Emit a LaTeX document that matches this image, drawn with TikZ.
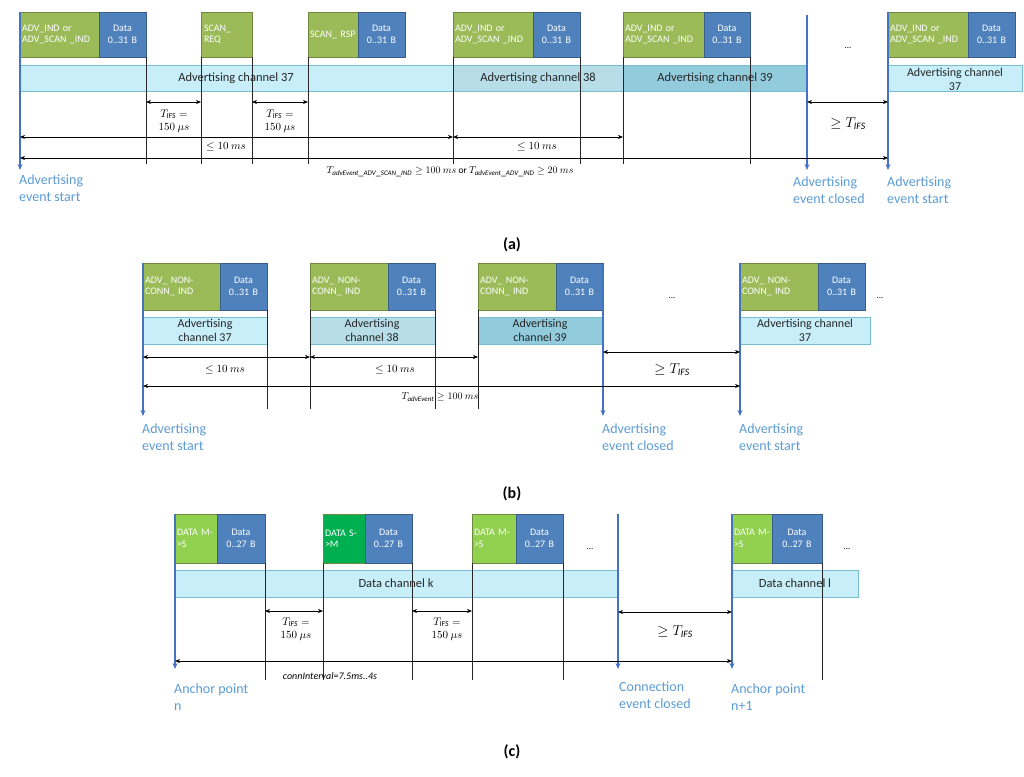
\documentclass[tikz,border=0pt]{standalone}
\usepackage{fontspec}
\setmainfont{Carlito}
\usetikzlibrary{arrows.meta}
\definecolor{gr}{RGB}{155,187,89}
\definecolor{grb}{RGB}{113,137,63}
\definecolor{lg}{RGB}{146,208,80}
\definecolor{dg}{RGB}{0,176,80}
\definecolor{bl}{RGB}{79,129,189}
\definecolor{blb}{RGB}{56,93,138}
\definecolor{ev}{RGB}{68,114,196}
\definecolor{evt}{RGB}{91,155,213}
\definecolor{chA}{RGB}{200,238,250}
\definecolor{chB}{RGB}{182,221,232}
\definecolor{chC}{RGB}{146,203,220}
\definecolor{chE}{RGB}{120,190,210}
\tikzset{
 pk/.style={draw, line width=0.8pt, inner sep=2pt, text=white, font=\fontsize{10}{11.5}\selectfont, anchor=center},
 ch/.style={draw=chE, line width=0.8pt, inner sep=0pt, font=\fontsize{12.5}{13}\selectfont, text=black!85},
 dim/.style={{Stealth[length=5pt,width=4pt]}-{Stealth[length=5pt,width=4pt]}, line width=0.6pt},
 tick/.style={line width=0.6pt, black!85},
 evl/.style={ev, line width=1.6pt, -{Stealth[length=6pt,width=5pt]}},
 evlab/.style={evt, font=\fontsize{14}{17}\selectfont, align=left, anchor=north west, inner sep=0pt},
 ml/.style={font=\fontsize{11}{13}\selectfont, align=center, inner sep=0pt},
 figcap/.style={font=\fontsize{16}{18}\selectfont\rmfamily\bfseries}
}
% name, xa, xb, xc, ytop, ybot, green text, data text, green colour
\newcommand\pkt[9]{%
 \pgfmathsetmacro\wA{#3-#2}\pgfmathsetmacro\wB{#4-#3}\pgfmathsetmacro\hh{#6-#5}%
 \node[pk, fill=#9, draw=grb, minimum width=\wA pt, minimum height=\hh pt, text width=\wA pt-4pt, align=left] (#1g) at ({(#2+#3)/2},{(#5+#6)/2}) {#7};
 \node[pk, fill=bl, draw=blb, minimum width=\wB pt, minimum height=\hh pt, text width=\wB pt-4pt, align=center] (#1d) at ({(#3+#4)/2},{(#5+#6)/2}) {#8};
}
\newcommand\chan[6]{% name, xa, xb, ya, yb, fill
 \pgfmathsetmacro\wA{#3-#2}\pgfmathsetmacro\hh{#5-#4}%
 \node[ch, fill=#6, minimum width=\wA pt, minimum height=\hh pt] (#1) at ({(#2+#3)/2},{(#4+#5)/2}) {};
}
\begin{document}
\begin{tikzpicture}[x=1pt,y=-1pt]
\useasboundingbox (0,0) rectangle (1024,776);
%%%%%%%%%%%%%%%% (a)
\chan{a37}{20}{453}{65}{91}{chA}
\chan{a38}{453}{623}{65}{91}{chB}
\chan{a39}{623}{807}{65}{91}{chC}
\chan{a37b}{888}{1022}{65}{91}{chA}
\node[ch,draw=none] at (236,78) {Advertising channel 37};
\node[ch,draw=none] at (538,78) {Advertising channel 38};
\node[ch,draw=none] at (715,78) {Advertising channel 39};
\node[ch,draw=none,align=center,font=\fontsize{12}{14}\selectfont] at (955,79) {Advertising channel\\37};
\pkt{a1}{20}{99}{146}{12}{57}{ADV\_IND or ADV\_SCAN \_IND}{Data 0..31 B}{gr}
\node[pk, fill=gr, draw=grb, minimum width=51pt, minimum height=45pt, text width=45pt, align=left] (a2g) at (226.5,34.5) {SCAN\_ REQ};
\pkt{a3}{308}{358}{405}{12}{57}{SCAN\_ RSP}{Data 0..31 B}{gr}
\pkt{a4}{453}{533}{580}{12}{57}{ADV\_IND or ADV\_SCAN \_IND}{Data 0..31 B}{gr}
\pkt{a5}{623}{704}{750}{12}{57}{ADV\_IND or ADV\_SCAN \_IND}{Data 0..31 B}{gr}
\pkt{a6}{888}{968}{1015}{12}{57}{ADV\_IND or ADV\_SCAN \_IND}{Data 0..31 B}{gr}
\node[font=\small] (adots) at (848,48) {...};
\foreach \x in {146,201,252,308,453,580,623,750}{\draw[tick] (\x,57) -- (\x,164);}
\coordinate (aS) at (20,12); \coordinate (aSb) at (20,170);
\coordinate (aC) at (807,15); \coordinate (aCb) at (807,170);
\coordinate (aN) at (888,12); \coordinate (aNb) at (888,170);
\draw[evl] (aS) -- (aSb); \draw[evl] (aC) -- (aCb); \draw[evl] (aN) -- (aNb);
\draw[dim] (146,102) -- (201,102); \draw[dim] (252,102) -- (308,102);
\node[ml] at (174,121) {$T_{\mathit{IFS}}=$\\$150\ \mu s$};
\node[ml] at (280,121) {$T_{\mathit{IFS}}=$\\$150\ \mu s$};
\draw[dim] (20,137) -- (453,137); \draw[dim] (453,137) -- (623,137);
\node[ml] at (226,147) {$\leq 10\ ms$};
\node[ml] at (537,147) {$\leq 10\ ms$};
\draw[dim] (20,158) -- (888,158);
\node[ml,font=\fontsize{10}{12}\selectfont] at (450,172) {$T_{\mathit{advEvent\_ADV\_SCAN\_IND}}\geq 100\ ms$ \textsf{or} $T_{\mathit{advEvent\_ADV\_IND}}\geq 20\ ms$};
\draw[dim] (807,102) -- (888,102);
\node[ml,font=\fontsize{14}{16}\selectfont] at (848,124) {$\geq T_{\mathit{IFS}}$};
\node[evlab] at (19,175) {Advertising\\event start};
\node[evlab] at (793,177) {Advertising\\event closed};
\node[evlab] at (887,177) {Advertising\\event start};
\node[figcap] at (512,245) {(\textbf{a})};
%%%%%%%%%%%%%%%% (b)
\chan{b37}{143}{267}{317}{344}{chA}
\chan{b38}{310}{435}{317}{344}{chB}
\chan{b39}{478}{603}{317}{344}{chC}
\chan{b37b}{740}{870}{317}{344}{chA}
\node[ch,draw=none,align=center,font=\fontsize{12}{14}\selectfont] at (205,330) {Advertising\\channel 37};
\node[ch,draw=none,align=center,font=\fontsize{12}{14}\selectfont] at (372,330) {Advertising\\channel 38};
\node[ch,draw=none,align=center,font=\fontsize{12}{14}\selectfont] at (540,330) {Advertising\\channel 39};
\node[ch,draw=none,align=center,font=\fontsize{12}{14}\selectfont] at (805,330) {Advertising channel\\37};
\pkt{b1}{143}{220}{267}{263}{310}{ADV\_ NONCONN\_ IND}{Data 0..31 B}{gr}
\pkt{b2}{310}{388}{435}{263}{310}{ADV\_ NONCONN\_ IND}{Data 0..31 B}{gr}
\pkt{b3}{478}{556}{603}{263}{310}{ADV\_ NONCONN\_ IND}{Data 0..31 B}{gr}
\pkt{b4}{740}{818}{865}{263}{310}{ADV\_ NONCONN\_ IND}{Data 0..31 B}{gr}
\node[font=\small] (bdots1) at (672,298) {...};
\node[font=\small] (bdots2) at (880,298) {...};
\foreach \x in {267,310,435,478}{\draw[tick] (\x,310) -- (\x,409);}
\coordinate (bS) at (143,263); \coordinate (bSb) at (143,416);
\coordinate (bC) at (603,265); \coordinate (bCb) at (603,416);
\coordinate (bN) at (740,263); \coordinate (bNb) at (740,416);
\draw[evl] (bS) -- (bSb); \draw[evl] (bC) -- (bCb); \draw[evl] (bN) -- (bNb);
\draw[dim] (143,357) -- (310,357); \draw[dim] (310,357) -- (478,357);
\node[ml] at (225,370) {$\leq 10\ ms$};
\node[ml] at (395,370) {$\leq 10\ ms$};
\draw[dim] (143,386) -- (740,386);
\node[ml,font=\fontsize{10}{12}\selectfont] at (440,397) {$T_{\mathit{advEvent}}\geq 100\ ms$};
\draw[dim] (603,352) -- (740,352);
\node[ml,font=\fontsize{14}{16}\selectfont] at (672,370) {$\geq T_{\mathit{IFS}}$};
\node[evlab] at (142,424) {Advertising\\event start};
\node[evlab] at (602,424) {Advertising\\event closed};
\node[evlab] at (739,424) {Advertising\\event start};
\node[figcap] at (512,494) {(\textbf{b})};
%%%%%%%%%%%%%%%% (c)
\chan{ck}{175}{618}{570}{597}{chA}
\chan{cl}{732}{858}{570}{597}{chA}
\node[ch,draw=none] at (396,583) {Data channel k};
\node[ch,draw=none] at (795,583) {Data channel l};
\pkt{c1}{175}{217}{265}{514}{563}{DATA M->S}{Data 0..27 B}{lg}
\pkt{c2}{323}{365}{412}{514}{563}{DATA S->M}{Data 0..27 B}{dg}
\pkt{c3}{472}{516}{563}{514}{563}{DATA M->S}{Data 0..27 B}{lg}
\pkt{c4}{732}{772}{822}{514}{563}{DATA M->S}{Data 0..27 B}{lg}
\node[font=\small] (cdots1) at (590,549) {...};
\node[font=\small] (cdots2) at (847,549) {...};
\foreach \x in {265,323,412,472,563,822}{\draw[tick] (\x,563) -- (\x,680);}
\coordinate (cS) at (175,514); \coordinate (cSb) at (175,669);
\coordinate (cC) at (618,514); \coordinate (cCb) at (618,669);
\coordinate (cN) at (732,514); \coordinate (cNb) at (732,669);
\draw[evl] (cS) -- (cSb); \draw[evl] (cC) -- (cCb); \draw[evl] (cN) -- (cNb);
\draw[dim] (265,611) -- (323,611); \draw[dim] (412,611) -- (472,611);
\node[ml] at (296,629) {$T_{\mathit{IFS}}=$\\$150\ \mu s$};
\node[ml] at (447,629) {$T_{\mathit{IFS}}=$\\$150\ \mu s$};
\draw[dim] (618,612) -- (732,612);
\node[ml,font=\fontsize{14}{16}\selectfont] at (675,632) {$\geq T_{\mathit{IFS}}$};
\draw[dim] (175,661) -- (732,661);
\node[ml,font=\fontsize{10}{12}\selectfont] at (330,676) {$\mathit{connInterval}$\textit{=7.5ms..4s}};
\node[evlab] at (174,684) {Anchor point\\n};
\node[evlab] at (619,682) {Connection\\event closed};
\node[evlab] at (731,684) {Anchor point\\n+1};
\node[figcap] at (512,752) {(\textbf{c})};
\end{tikzpicture}
\end{document}
